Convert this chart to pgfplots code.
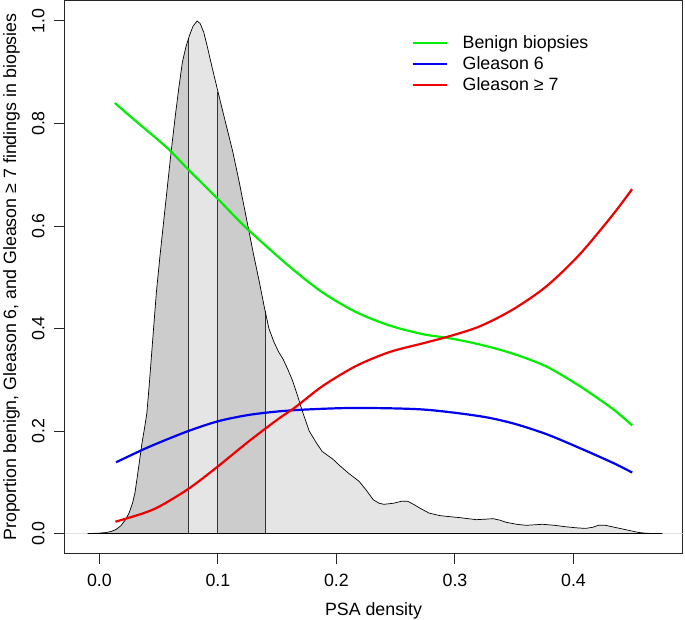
\documentclass[border=0pt]{standalone}
\usepackage{pgfplots}
\usepackage{pgfplotstable}
\pgfplotsset{compat=1.18}
\usepgfplotslibrary{fillbetween}
\usepackage{fontspec}
\setmainfont{Liberation Sans}
\definecolor{darkfill}{HTML}{CCCCCC}
\definecolor{lightfill}{HTML}{E5E5E5}
\definecolor{rgreen}{HTML}{00EE00}
\definecolor{rblue}{HTML}{0000EE}
\definecolor{rred}{HTML}{EE0000}
\pgfplotstableread{
x y
-0.010 0.000
-0.005 0.0003
0.000 0.0008
0.005 0.0018
0.010 0.004
0.014 0.008
0.018 0.015
0.022 0.027
0.025 0.040
0.028 0.060
0.030 0.080
0.032 0.112
0.034 0.145
0.036 0.178
0.038 0.205
0.040 0.235
0.042 0.290
0.044 0.350
0.046 0.410
0.048 0.470
0.051 0.540
0.054 0.605
0.057 0.670
0.0605 0.745
0.064 0.815
0.067 0.870
0.070 0.920
0.073 0.950
0.076 0.972
0.079 0.990
0.0824 1.000
0.085 0.995
0.088 0.978
0.091 0.950
0.095 0.910
0.100 0.862
0.105 0.815
0.1125 0.745
0.118 0.685
0.124 0.615
0.130 0.545
0.135 0.490
0.139 0.443
0.143 0.400
0.147 0.375
0.151 0.355
0.155 0.340
0.159 0.320
0.163 0.298
0.167 0.270
0.1716 0.236
0.177 0.200
0.183 0.177
0.188 0.160
0.197 0.145
0.2025 0.133
0.210 0.118
0.219 0.102
0.225 0.085
0.231 0.066
0.236 0.059
0.240 0.057
0.248 0.059
0.255 0.063
0.260 0.063
0.265 0.057
0.270 0.050
0.278 0.040
0.287 0.035
0.295 0.033
0.304 0.031
0.318 0.027
0.326 0.028
0.332 0.029
0.338 0.026
0.343 0.022
0.352 0.018
0.360 0.016
0.367 0.017
0.374 0.018
0.384 0.016
0.394 0.013
0.403 0.011
0.410 0.010
0.416 0.012
0.421 0.016
0.427 0.016
0.433 0.013
0.439 0.010
0.445 0.007
0.450 0.0045
0.455 0.002
0.461 0.0005
0.468 0.000
0.475 0.000
}\dens
\pgfplotstableread{
x y
0.013 0.840
0.030 0.806
0.050 0.767
0.0605 0.745
0.0755 0.709
0.1007 0.651
0.124 0.596
0.1603 0.521
0.1885 0.470
0.2166 0.432
0.2447 0.406
0.2728 0.389
0.2954 0.381
0.3207 0.369
0.3488 0.351
0.377 0.326
0.405 0.288
0.4332 0.243
0.4495 0.211
}\benign
\pgfplotstableread{
x y
0.014 0.139
0.036 0.163
0.050 0.177
0.075 0.200
0.100 0.219
0.125 0.231
0.150 0.238
0.175 0.242
0.2166 0.245
0.2728 0.242
0.3207 0.229
0.3488 0.215
0.377 0.194
0.405 0.167
0.4332 0.138
0.4495 0.119
}\glsix
\pgfplotstableread{
x y
0.0135 0.023
0.035 0.038
0.050 0.052
0.075 0.087
0.100 0.131
0.125 0.178
0.150 0.222
0.165 0.246
0.1885 0.288
0.2166 0.327
0.2447 0.354
0.2728 0.371
0.2954 0.385
0.3207 0.404
0.3488 0.437
0.377 0.482
0.405 0.544
0.4332 0.622
0.4495 0.672
}\glseven
\begin{document}
\begin{tikzpicture}
\begin{axis}[
  scale only axis, width=618pt, height=553pt,
  xmin=-0.0295, xmax=0.492, ymin=-0.039, ymax=1.040,
  axis line style={black!85, line width=1pt},
  tick style={black!85, line width=1pt},
  tick align=outside, major tick length=10.5pt,
  xtick pos=bottom, ytick pos=left,
  xtick={0,0.1,0.2,0.3,0.4}, xticklabels={0.0,0.1,0.2,0.3,0.4},
  ytick={0,0.2,0.4,0.6,0.8,1.0}, yticklabels={0.0,0.2,0.4,0.6,0.8,1.0},
  /pgf/number format/assume math mode=true,
  tick label style={font=\fontsize{17.8}{21}\selectfont, inner sep=0pt},
  xticklabel style={anchor=base, yshift=-22.5pt},
  yticklabel style={xshift=-9.5pt, rotate=90, anchor=base},
  label style={font=\fontsize{17.8}{21}\selectfont, inner sep=0pt},
  xlabel={PSA density},
  xlabel style={at={(axis description cs:0.5,0)}, anchor=base, yshift=-61.5pt},
  ylabel={Proportion benign, Gleason 6, and Gleason ≥ 7 findings in biopsies},
  ylabel style={at={(axis description cs:-0.0995,0.5)}, anchor=north},
  legend image code/.code={\draw[#1] (0pt,0pt) -- (34pt,0pt);},
  legend cell align=left,
  legend style={draw=none, fill=none, inner sep=0pt, outer sep=0pt,
    at={(axis cs:0.2633,0.978)}, anchor=north west,
    row sep=0pt, column sep=15pt,
    font=\fontsize{17.8}{21}\selectfont,
    nodes={text height=16pt, text depth=5pt, inner sep=0pt}},
]
\addplot[black!12, line width=0.8pt, forget plot] coordinates {(-0.0295,0) (0.492,0)};
\addplot[name path=dens, draw=none, forget plot] table[x=x, y=y] {\dens};
\addplot[name path=zero, draw=none, forget plot] coordinates {(-0.010,0) (0.475,0)};
\addplot[fill=lightfill, forget plot] fill between[of=dens and zero];
\addplot[fill=darkfill, forget plot] fill between[of=dens and zero, soft clip={domain=-0.02:0.075}];
\addplot[fill=darkfill, forget plot] fill between[of=dens and zero, soft clip={domain=0.1:0.14}];
\addplot[black!80, line width=1pt, forget plot] coordinates {(0.075,0) (0.075,0.965)};
\addplot[black!80, line width=1pt, forget plot] coordinates {(0.1,0) (0.1,0.862)};
\addplot[black!80, line width=1pt, forget plot] coordinates {(0.14,0) (0.14,0.434)};
\addplot[black, line width=0.7pt, forget plot] table[x=x, y=y] {\dens};
\addplot[black, line width=0.7pt, forget plot] coordinates {(-0.010,0) (0.475,0)};
\addplot[rgreen, line width=2.2pt, smooth] table[x=x, y=y] {\benign};
\addlegendentry{Benign biopsies}
\addplot[rblue, line width=2.2pt, smooth] table[x=x, y=y] {\glsix};
\addlegendentry{Gleason 6}
\addplot[rred, line width=2.2pt, smooth] table[x=x, y=y] {\glseven};
\addlegendentry{Gleason ≥ 7}
\end{axis}
\pgfresetboundingbox
\path ([shift={(-64.5pt,-65.5pt)}]current axis.south west) rectangle ([shift={(2.5pt,0.5pt)}]current axis.north east);
\end{tikzpicture}
\end{document}
